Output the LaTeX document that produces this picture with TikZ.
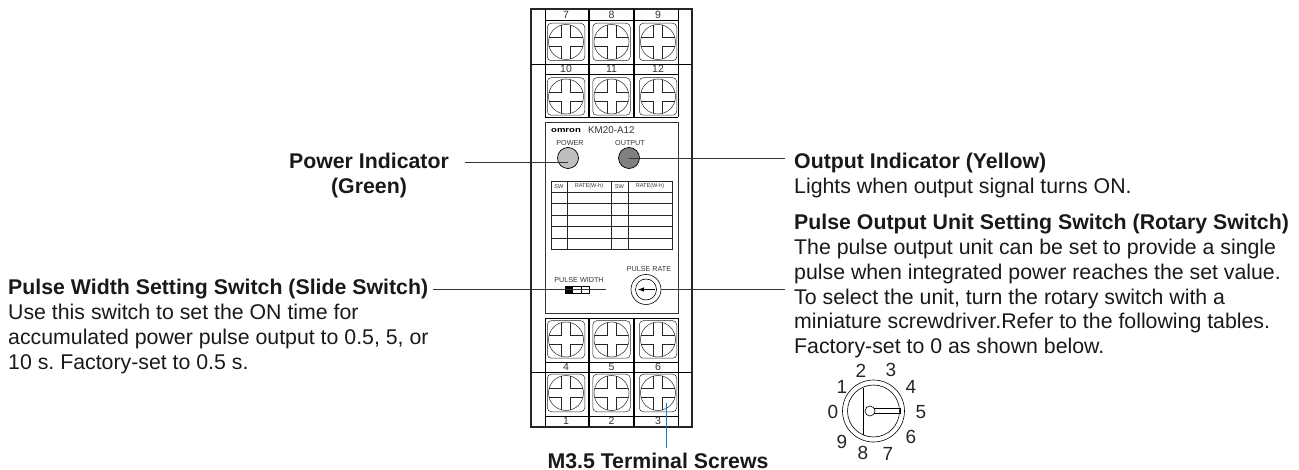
\documentclass[tikz,border=0pt]{standalone}
\usepackage{fontspec}
\setmainfont{Liberation Sans}
\newfontfamily\logofont[FakeStretch=1.27]{Liberation Sans}
\usetikzlibrary{calc}
\usetikzlibrary{positioning}

\begin{document}
\frenchspacing
\begin{tikzpicture}[x=1pt, y=-1pt,
        screwbox/.style={rectangle, draw=black!85, rounded corners=4pt, minimum size=37.5pt, inner sep=0pt, line width=0.5pt},
        led/.style={circle, draw=black, minimum size=21pt, inner sep=0pt, line width=0.7pt},
        tiny/.style={font=\fontsize{7.2}{8}\selectfont, text=black!80, inner sep=0pt},
        tabletext/.style={font=\fontsize{5.6}{6}\selectfont, text=black!80, inner sep=0pt},
        number/.style={font=\fontsize{10.5}{11}\selectfont, text=black!80, inner sep=0pt},
        digit/.style={font=\fontsize{19}{20}\selectfont, text=black!85, inner sep=0pt},
        body/.style={font=\fontsize{21.3}{24.8}\selectfont, text=black!90, align=left, inner sep=0pt},
        title/.style={font=\fontsize{21.3}{24.8}\selectfont\bfseries, text=black!90, inner sep=0pt},
        leader/.style={draw=black!80, line width=0.7pt}]
    \useasboundingbox (0, 0) rectangle (1299, 470);
    \draw[line width=1.2pt, draw=black!85] (531, 9) rectangle (692, 427);
    \foreach \yA/\yB in {9/117, 318/427}
    {
        \draw[line width=0.5pt] (545, \yA) -- (545, \yB);
        \draw[line width=0.5pt] (678, \yA) -- (678, \yB);
        \draw[line width=2pt] (588.5, \yA) -- (588.5, \yB);
        \draw[line width=2pt] (634, \yA) -- (634, \yB);
    }
    \foreach \y in {20, 74, 117, 318, 362, 416}
    {
        \draw[line width=0.6pt] (545, \y) -- (678, \y);
    }
    \draw[line width=0.5pt] (531, 64) -- (692, 64);
    \draw[line width=0.5pt] (531, 372) -- (692, 372);
    \foreach \a/\b/\c/\y/\ny in {7/8/9/42/15, 10/11/12/96.5/69, 4/5/6/339.5/367, 1/2/3/393/421}
    {
        \foreach \n/\x in {\a/566, \b/611.5, \c/658}
        {
            \node[screwbox] (s\n) at (\x, \y) {};
            \node[number] (num\n) at (\x, \ny) {\n};
            \draw[line width=0.5pt, draw=black!85] (s\n.center) circle (17.5);
            \draw[line width=0.5pt, draw=black!85]
                ($(s\n.center) + (-4.5, -16.9)$) -- ++(0, 12.4) -- ++(-12.4, 0)
                ($(s\n.center) + (4.5, -16.9)$) -- ++(0, 12.4) -- ++(12.4, 0)
                ($(s\n.center) + (-4.5, 16.9)$) -- ++(0, -12.4) -- ++(-12.4, 0)
                ($(s\n.center) + (4.5, 16.9)$) -- ++(0, -12.4) -- ++(12.4, 0);
        }
    }
    \draw[line width=0.6pt, draw=black!80] (545, 122) rectangle (678, 313);
    \node[inner sep=0pt, font=\fontsize{7.5}{8}\logofont\bfseries\selectfont] (logo) at (566, 130.5) {omron};
    \node[inner sep=0pt, font=\fontsize{9.8}{10}\selectfont, text=black!80, anchor=west] (model) at (588, 130.5) {KM20-A12};
    \node[tiny] (powertext) at (570, 143) {POWER};
    \node[tiny] (outputtext) at (630, 143) {OUTPUT};
    \node[led, fill=black!25] (powerled) at (568, 158) {};
    \node[led, fill=black!50] (outputled) at (629, 158) {};
    \draw[line width=0.6pt, draw=black!85] (551, 181) rectangle (672, 249);
    \foreach \y in {192, 203.5, 215, 226.5, 238}
    {
        \draw[line width=0.6pt, draw=black!85] (551, \y) -- (672, \y);
    }
    \foreach \x in {567, 611, 628}
    {
        \draw[line width=0.6pt, draw=black!85] (\x, 181) -- (\x, 249);
    }
    \foreach \n/\x/\t in {a/559/SW, b/589/RATE(W-h), c/619.5/SW, d/650/RATE(W-h)}
    {
        \node[tabletext] (head\n) at (\x, 186.5) {\t};
    }
    \node[tiny] (widthtext) at (579, 280) {PULSE WIDTH};
    \node[tiny] (ratetext) at (649, 269.5) {PULSE RATE};
    \node[rectangle, draw=black, line width=0.5pt, minimum width=24pt, minimum height=7pt, inner sep=0pt] (slide) at (577, 289.5) {};
    \fill[black] (slide.north west) rectangle ($(slide.south west) + (8, 0)$);
    \draw[line width=0.5pt] ($(slide.north west) + (16, 0)$) -- ($(slide.south west) + (16, 0)$);
    \node[circle, draw=black, minimum size=30pt, inner sep=0pt, line width=0.6pt] (rate) at (646, 289.5) {};
    \draw[line width=0.6pt] (rate.center) circle (10.5);
    \draw[line width=1pt, -latex] (654.5, 289.5) -- (638, 289.5);

    \node[title, align=center] (powerlabel) at (369, 175.5) {Power Indicator\\(Green)};
    \coordinate (powerend) at (465, 162);
    \draw[leader] (powerend) -- (powerled.center |- powerend);
    \node[body, anchor=north west] (outputlabel) at (794, 153) {\textbf{Output Indicator (Yellow)}\\Lights when output signal turns ON.};
    \coordinate (outputend) at (785, 158);
    \draw[leader] (outputled.center) -- (outputend);
    \node[body, anchor=north west] (widthlabel) at (8, 279) {\textbf{Pulse Width Setting Switch (Slide Switch)}\\Use this switch to set the ON time for\\accumulated power pulse output to 0.5, 5, or\\10 s. Factory-set to 0.5 s.};
    \coordinate (widthstart) at (433, 289.5);
    \coordinate (widthend) at (606, 289.5);
    \draw[leader] (widthstart) -- (widthend);
    \node[body, anchor=north west] (ratelabel) at (794, 214) {\textbf{Pulse Output Unit Setting Switch (Rotary Switch)}\\The pulse output unit can be set to provide a single\\pulse when integrated power reaches the set value.\\To select the unit, turn the rotary switch with a\\miniature screwdriver.Refer to the following tables.\\Factory-set to 0 as shown below.};
    \coordinate (rateend) at (785, 289.5);
    \draw[leader] (rate.east) -- (rateend);
    \node[title] (screwlabel) at (658, 460.5) {M3.5 Terminal Screws};
    \coordinate (screwend) at (666, 403);
    \draw[draw=cyan!60!blue, line width=0.6pt] (screwend) -- (666, 448);

    \node[circle, draw=black, minimum size=62pt, inner sep=0pt, line width=0.6pt] (dial) at (873.5, 411) {};
    \draw[line width=0.6pt] (dial.center) circle (26);
    \draw[line width=0.6pt] (863.5, 387.5) -- (863.5, 434.5);
    \draw[line width=0.6pt] (874, 408.5) -- (900, 408.5) -- (900, 413.5) -- (874, 413.5);
    \draw[line width=0.6pt, fill=white] (870, 411) circle (5);
    \foreach \n/\x/\y in {2/861/371, 3/891/370, 1/842/387, 4/911/387, 0/833/412, 5/921/412, 9/842/442, 6/911/437, 8/863/453, 7/888/454}
    {
        \node[digit] (dig\n) at (\x, \y) {\n};
    }
\end{tikzpicture}
\end{document}
